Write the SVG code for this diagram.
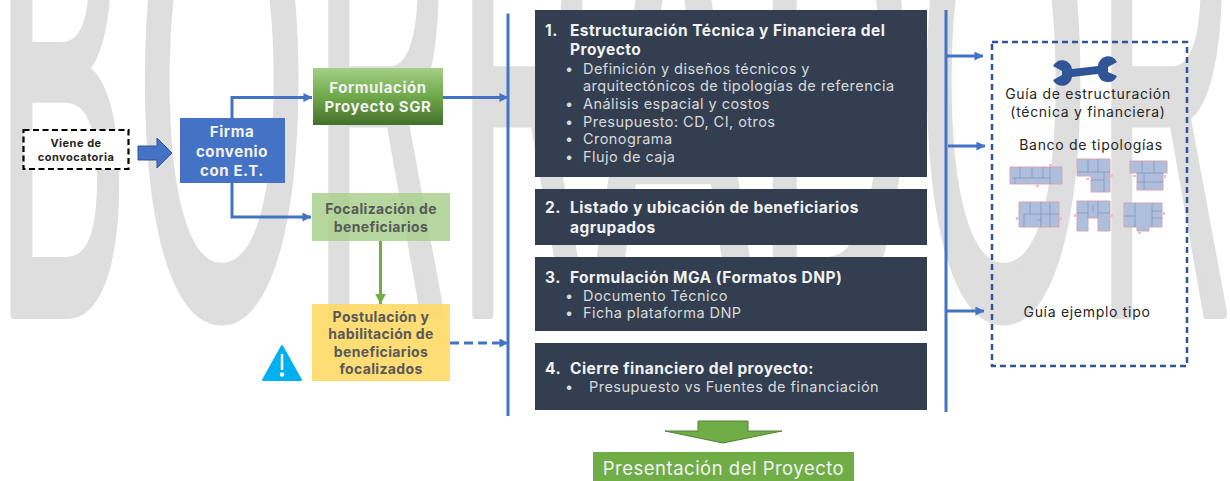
<svg xmlns="http://www.w3.org/2000/svg" width="1230" height="481" viewBox="0 0 1230 481">
<defs>
<linearGradient id="g1" x1="0" y1="0" x2="0" y2="1"><stop offset="0" stop-color="#a4cf85"/><stop offset="0.5" stop-color="#6fa84a"/><stop offset="1" stop-color="#44702c"/></linearGradient>
<marker id="ab" viewBox="0 0 10 10" refX="9.5" refY="5" markerWidth="10" markerHeight="9" markerUnits="userSpaceOnUse" orient="auto"><path d="M0 0L10 5L0 10Z" fill="#4472c4"/></marker>
<marker id="ag" viewBox="0 0 10 10" refX="9.500" refY="5" markerWidth="11" markerHeight="11" markerUnits="userSpaceOnUse" orient="auto"><path d="M0 0L10 5L0 10Z" fill="#70ad47"/></marker>
</defs>
<style>
text{font-family:"Inter","Liberation Sans",sans-serif}
.wm text{font-family:"Liberation Sans",sans-serif;font-size:670px;fill:#dedede;stroke:#dedede;stroke-width:12;stroke-linejoin:round}
.c{fill:none;stroke:#4472c4;stroke-width:3}
.d{fill:#333f50}
.h{font-size:15.5px;font-weight:700;fill:#f2f2f2;letter-spacing:.45px}
.b{font-size:14.5px;fill:#d9d9d9;letter-spacing:.45px}
.n{font-weight:700;text-anchor:middle;font-size:15px;letter-spacing:.6px}
.s{font-size:11px;letter-spacing:.5px;fill:#262626}
.w{fill:#f2f2f2}.g{fill:#595959;font-size:14px;letter-spacing:.35px}
.t{font-size:14px;fill:#262626;text-anchor:middle;letter-spacing:.7px}
.p{fill:#aebfde;stroke:#d9a3ab;stroke-width:1}
.pl{fill:none;stroke:#8395b8;stroke-width:.8}
.pk{fill:#f2b5e2}
</style>
<g id="watermark" class="wm">
<text transform="translate(-4 313) scale(.295 1)">B</text>
<text transform="translate(136.500 313) scale(.327 1)">O</text>
<text transform="translate(314.500 313) scale(.282 1)">R</text>
<text transform="translate(458.500 313) scale(.282 1)">R</text>
<text transform="translate(590 313) scale(.372 1)">A</text>
<text transform="translate(757 313) scale(.322 1)">D</text>
<text transform="translate(918.500 313) scale(.327 1)">O</text>
<text transform="translate(1097.500 313) scale(.282 1)">R</text>
</g>
<g id="connectors">
<path class="c" d="M232 118V97.500H312" marker-end="url(#ab)"/>
<path class="c" d="M232 183V217H311" marker-end="url(#ab)"/>
<path class="c" d="M443 97.500H508" marker-end="url(#ab)"/>
<path d="M380.500 241V304" fill="none" stroke="#70ad47" stroke-width="3" marker-end="url(#ag)"/>
<path class="c" d="M450 343H508" stroke-dasharray="9 5" marker-end="url(#ab)"/>
<path class="c" d="M508 13.500V416"/>
<path class="c" d="M946 10V412"/>
<path class="c" d="M947 56H983" marker-end="url(#ab)"/>
<path class="c" d="M948 146H985" marker-end="url(#ab)"/>
<path class="c" d="M947 311H984" marker-end="url(#ab)"/>
</g>
<g id="viene"><rect x="23.500" y="130" width="105" height="39" fill="#fff" stroke="#000" stroke-width="2.200" stroke-dasharray="6 3.500"/><text class="n s" x="76" y="147">Viene de</text><text class="n s" x="76" y="161">convocatoria</text></g>
<g id="flecha"><path d="M138 146H157V138L172 153L157 168V160H138Z" fill="#4472c4" stroke="#2f5597"/></g>
<g id="firma"><rect x="180" y="118" width="105" height="65" fill="#4472c4"/><text class="n w" x="232" y="137">Firma</text><text class="n w" x="232" y="157">convenio</text><text class="n w" x="232" y="176">con E.T.</text></g>
<g id="formulacion"><rect x="313" y="68" width="130" height="57" fill="url(#g1)"/><text class="n w" x="378" y="93">Formulación</text><text class="n w" x="378" y="112">Proyecto SGR</text></g>
<g id="focalizacion"><rect x="312" y="193" width="138" height="48" fill="#a9d18e" fill-opacity=".85"/><text class="n g" x="381" y="214">Focalización de</text><text class="n g" x="381" y="232">beneficiarios</text></g>
<g id="postulacion"><rect x="312" y="304" width="138" height="77" fill="#ffd966" fill-opacity=".9"/><text class="n g" x="381" y="322">Postulación y</text><text class="n g" x="381" y="339">habilitación de</text><text class="n g" x="381" y="357">beneficiarios</text><text class="n g" x="381" y="374">focalizados</text></g>
<g id="alerta"><path d="M282 346L301 380H263Z" fill="#00b0f0" stroke="#00b0f0" stroke-width="2" stroke-linejoin="round"/><path d="M282 354V370" stroke="#fff" stroke-width="2.500"/><circle cx="282" cy="374.500" r="2.200" fill="#fff"/></g>
<g id="paso1"><rect class="d" x="535" y="10" width="392" height="167"/><text class="h" x="545" y="36">1.</text><text class="h" x="570" y="36">Estructuración Técnica y Financiera del</text><text class="h" x="570" y="55">Proyecto</text>
<text class="b" x="565" y="74">•</text><text class="b" x="583" y="74">Definición y diseños técnicos y</text><text class="b" x="583" y="91">arquitectónicos de tipologías de referencia</text>
<text class="b" x="565" y="109">•</text><text class="b" x="583" y="109">Análisis espacial y costos</text>
<text class="b" x="565" y="127">•</text><text class="b" x="583" y="127">Presupuesto: CD, CI, otros</text>
<text class="b" x="565" y="144">•</text><text class="b" x="583" y="144">Cronograma</text>
<text class="b" x="565" y="162">•</text><text class="b" x="583" y="162">Flujo de caja</text></g>
<g id="paso2"><rect class="d" x="535" y="189" width="392" height="56"/><text class="h" x="545" y="213">2.</text><text class="h" x="570" y="213">Listado y ubicación de beneficiarios</text><text class="h" x="570" y="233">agrupados</text></g>
<g id="paso3"><rect class="d" x="535" y="257" width="392" height="74"/><text class="h" x="545" y="283">3.</text><text class="h" x="570" y="283">Formulación MGA (Formatos DNP)</text><text class="b" x="565" y="301">•</text><text class="b" x="583" y="301">Documento Técnico</text><text class="b" x="565" y="318">•</text><text class="b" x="583" y="318">Ficha plataforma DNP</text></g>
<g id="paso4"><rect class="d" x="535" y="343" width="392" height="67"/><text class="h" x="545" y="374">4.</text><text class="h" x="570" y="374">Cierre financiero del proyecto:</text><text class="b" x="565" y="392">•</text><text class="b" x="589" y="392">Presupuesto vs Fuentes de financiación</text></g>
<g id="flecha-verde"><path d="M698 421H748V431H782L723 443L665 431H698Z" fill="#70ad47" stroke="#548235"/></g>
<g id="presentacion"><rect x="593" y="452" width="261" height="29" fill="#70ad47"/><text x="723.500" y="475" text-anchor="middle" style="font-size:18.500px;letter-spacing:.5px" fill="#f2f2f2">Presentación del Proyecto</text></g>
<g id="recursos"><rect x="992" y="42" width="195" height="324" fill="none" stroke="#2f5597" stroke-width="2.500" stroke-dasharray="6 4"/>
<path d="M1053 66A10 10 0 0 1 1072 69L1098 66A10 10 0 0 1 1117 62L1108 67V72L1117 76A10 10 0 0 1 1098 74L1072 77A10 10 0 0 1 1053 80L1062 75V71Z" fill="#2f5597"/>
<text class="t" x="1088" y="99">Guía de estructuración</text><text class="t" x="1088" y="117">(técnica y financiera)</text><text class="t" x="1091" y="150">Banco de tipologías</text><text class="t" x="1087" y="317">Guía ejemplo tipo</text>
<g id="plantas">
<path class="p" d="M1010 167H1062V184H1010Z"/><path class="pl" d="M1020 167V178M1032 167V178M1043 167V178M1050 167V184M1012 178H1050M1015 178V184"/><rect class="pk" x="1049" y="164" width="3" height="2"/><rect class="pk" x="1036" y="185" width="3" height="2"/>
<path class="p" d="M1077 159H1110V192H1091V176H1077Z"/><path class="pl" d="M1088 159V172M1098 159V172M1077 172H1110M1104 172V192M1091 180H1104"/><rect class="pk" x="1111" y="174" width="2" height="3"/><rect class="pk" x="1086" y="178" width="3" height="2"/>
<path class="p" d="M1130 161H1167V173H1163V190H1137V173H1130Z"/><path class="pl" d="M1142 161V173M1154 161V173M1137 173H1163M1144 173V190M1137 182H1163"/><rect class="pk" x="1133" y="175" width="3" height="2"/><rect class="pk" x="1164" y="175" width="2" height="3"/>
<path class="p" d="M1019 202H1059V227H1019Z"/><path class="pl" d="M1030 202V214M1041 202V227M1050 202V227M1024 214H1059M1024 214V227M1037 220H1041"/><rect class="pk" x="1016" y="217" width="2" height="3"/><rect class="pk" x="1060" y="217" width="2" height="3"/>
<path class="p" d="M1077 201H1110V231H1098V218H1088V231H1077Z"/><path class="pl" d="M1088 201V218M1098 201V218M1077 213H1088M1098 213H1110M1093 205V212"/><rect class="pk" x="1074" y="214" width="2" height="3"/><rect class="pk" x="1111" y="214" width="2" height="3"/>
<path class="p" d="M1124 203H1162V227H1149V231H1137V227H1124Z"/><path class="pl" d="M1135 203V227M1152 203V227M1152 211H1162M1124 216H1135M1152 218H1162"/><rect class="pk" x="1163" y="212" width="2" height="3"/><rect class="pk" x="1138" y="232" width="3" height="2"/>
</g></g>
</svg>
